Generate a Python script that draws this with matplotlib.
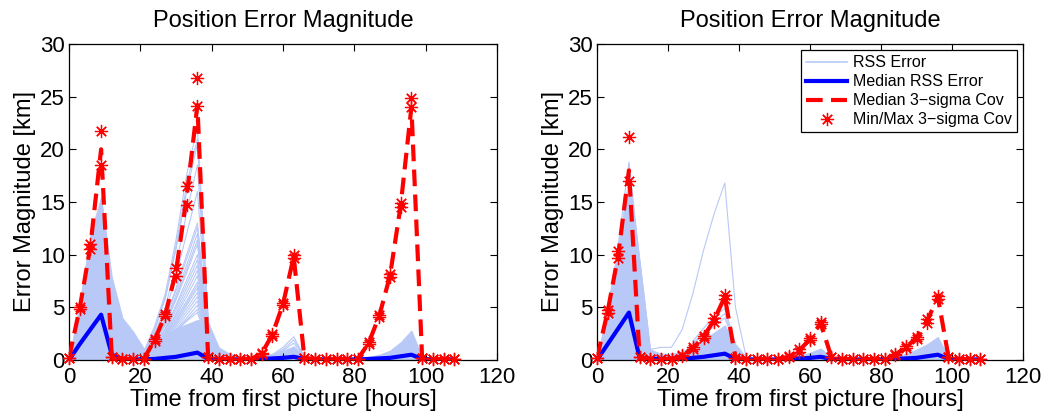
import matplotlib
matplotlib.use("Agg")
import matplotlib.pyplot as plt

plt.rcParams['font.family'] = ['Liberation Sans', 'DejaVu Sans']

# sample times [hours]
hours = list(range(0, 109, 3))

# ---------------- left panel ----------------
rss_band_left = [0.0, 5.5, 12.0, 15.5, 7.9, 4.0, 2.7, 1.1, 1.5, 2.4, 3.0, 3.4, 3.8, 3.6,
                 1.2, 0.6, 0.4, 0.3, 0.3, 0.5, 0.9, 1.3, 0.3, 0.2, 0.2, 0.2, 0.2, 0.2,
                 0.3, 0.5, 0.9, 1.7, 2.8, 0.3, 0.2, 0.2, 0.2]
# individual RSS runs: (start hour, values)
rss_runs_left = [
    (21, [0.8, 3.2, 6.3, 11.4, 17.6, 22.1, 4.0]),
    (21, [0.7, 2.9, 6.0, 10.8, 16.6, 21.0, 3.9]),
    (21, [0.7, 2.8, 5.8, 10.5, 16.0, 20.5, 3.8]),
    (21, [0.7, 2.5, 5.0, 9.0, 14.0, 18.5, 3.5]),
    (21, [0.6, 2.2, 4.5, 8.0, 12.0, 16.0, 3.2]),
    (21, [0.6, 2.0, 4.0, 6.8, 10.0, 13.0, 3.0]),
    (21, [0.6, 2.0, 3.9, 6.6, 9.6, 12.6, 3.0]),
    (21, [0.5, 1.8, 3.6, 6.2, 9.0, 12.0, 2.8]),
    (21, [0.5, 1.7, 3.4, 5.9, 8.6, 11.4, 2.7]),
    (21, [0.5, 1.6, 3.3, 5.7, 8.3, 11.0, 2.6]),
    (21, [0.5, 1.5, 3.0, 5.2, 7.6, 10.0, 2.5]),
    (21, [0.5, 1.5, 2.9, 5.0, 7.2, 9.5, 2.4]),
    (21, [0.4, 1.4, 2.8, 4.7, 6.8, 9.0, 2.3]),
    (21, [0.4, 1.3, 2.6, 4.4, 6.4, 8.5, 2.3]),
    (21, [0.4, 1.3, 2.5, 4.2, 6.0, 8.0, 2.2]),
    (21, [0.4, 1.2, 2.4, 4.0, 5.6, 7.4, 2.1]),
    (21, [0.4, 1.2, 2.3, 3.8, 5.4, 7.1, 2.1]),
    (21, [0.4, 1.1, 2.2, 3.6, 5.2, 6.8, 2.0]),
    (21, [0.3, 1.1, 2.1, 3.5, 4.9, 6.4, 2.0]),
    (21, [0.3, 1.0, 2.0, 3.3, 4.6, 6.0, 1.9]),
    (21, [0.3, 1.0, 1.9, 3.1, 4.3, 5.6, 1.9]),
    (21, [0.3, 0.9, 1.8, 2.9, 4.0, 5.2, 1.8]),
    (21, [0.3, 0.9, 1.7, 2.8, 3.8, 4.8, 1.8]),
    (21, [0.3, 0.9, 1.7, 2.7, 3.7, 4.5, 1.7]),
    (54, [0.3, 0.5, 1.2, 2.2, 0.3]),
    (54, [0.3, 0.5, 1.0, 1.9, 0.3]),
    (54, [0.3, 0.4, 0.9, 1.6, 0.3]),
]
med_rss_left = [0.0, 1.5, 2.9, 4.3, 0.5, 0.1, 0.05, 0.05, 0.1, 0.2, 0.3, 0.5, 0.7, 0.1,
                0.05, 0.05, 0.05, 0.05, 0.1, 0.15, 0.2, 0.3, 0.1, 0.05, 0.05, 0.05, 0.05,
                0.05, 0.1, 0.15, 0.2, 0.35, 0.5, 0.1, 0.05, 0.05, 0.05]
med_cov_left = [0.2, 4.9, 10.8, 20.0, 0.3, 0.1, 0.1, 0.1, 1.9, 4.3, 8.4, 15.5, 24.2, 0.3,
                0.1, 0.1, 0.1, 0.1, 0.6, 2.4, 5.3, 9.8, 0.2, 0.1, 0.1, 0.1, 0.1, 0.1,
                1.6, 4.2, 8.0, 14.7, 24.0, 0.2, 0.1, 0.1, 0.1]
min_cov_left = [0.2, 4.8, 10.5, 18.5, 0.3, 0.1, 0.1, 0.1, 1.8, 4.2, 8.0, 14.7, 24.1, 0.3,
                0.1, 0.1, 0.1, 0.1, 0.6, 2.3, 5.2, 9.7, 0.2, 0.1, 0.1, 0.1, 0.1, 0.1,
                1.5, 4.1, 7.9, 14.5, 24.0, 0.2, 0.1, 0.1, 0.1]
max_cov_left = [0.2, 5.0, 11.0, 21.7, 0.3, 0.1, 0.1, 0.1, 2.0, 4.4, 8.7, 16.5, 26.8, 0.3,
                0.1, 0.1, 0.1, 0.1, 0.7, 2.5, 5.4, 10.0, 0.2, 0.1, 0.1, 0.1, 0.1, 0.1,
                1.7, 4.3, 8.2, 14.9, 24.9, 0.2, 0.1, 0.1, 0.1]

# ---------------- right panel ----------------
rss_band_right = [0.0, 5.2, 11.0, 17.5, 9.5, 1.0, 0.6, 0.6, 0.8, 1.4, 2.0, 2.6, 3.3, 1.5,
                  0.3, 0.2, 0.2, 0.2, 0.2, 0.4, 0.7, 1.1, 0.3, 0.2, 0.2, 0.2, 0.2, 0.2,
                  0.3, 0.6, 1.0, 1.5, 2.2, 0.3, 0.2, 0.2, 0.2]
rss_runs_right = [
    (6, [11.0, 18.8, 9.5, 1.0]),
    (15, [1.0, 1.2, 1.2, 2.9, 6.3, 10.4, 13.9, 16.8, 5.0, 0.3]),
    (27, [1.8, 3.0, 4.1, 4.9, 1.5]),
    (27, [1.6, 2.6, 3.6, 4.4, 1.4]),
    (27, [1.5, 2.4, 3.2, 4.0, 1.3]),
]
med_rss_right = [0.0, 1.5, 3.0, 4.5, 0.2, 0.1, 0.1, 0.1, 0.15, 0.2, 0.3, 0.45, 0.6, 0.1,
                 0.05, 0.05, 0.05, 0.05, 0.1, 0.15, 0.2, 0.3, 0.1, 0.05, 0.05, 0.05, 0.05,
                 0.05, 0.1, 0.15, 0.2, 0.35, 0.5, 0.1, 0.05, 0.05, 0.05]
med_cov_right = [0.2, 4.6, 10.0, 18.0, 0.3, 0.1, 0.1, 0.1, 0.4, 1.1, 2.2, 3.8, 6.0, 0.2,
                 0.1, 0.1, 0.1, 0.1, 0.3, 0.9, 2.0, 3.5, 0.3, 0.1, 0.1, 0.1, 0.1, 0.1,
                 0.5, 1.2, 2.1, 3.7, 6.0, 0.3, 0.1, 0.1, 0.1]
min_cov_right = [0.2, 4.5, 9.7, 17.0, 0.3, 0.1, 0.1, 0.1, 0.4, 1.0, 2.1, 3.6, 5.8, 0.2,
                 0.1, 0.1, 0.1, 0.1, 0.3, 0.8, 1.9, 3.4, 0.3, 0.1, 0.1, 0.1, 0.1, 0.1,
                 0.5, 1.1, 2.0, 3.5, 5.8, 0.3, 0.1, 0.1, 0.1]
max_cov_right = [0.2, 4.7, 10.3, 21.2, 0.3, 0.1, 0.1, 0.1, 0.5, 1.2, 2.3, 4.0, 6.2, 0.2,
                 0.1, 0.1, 0.1, 0.1, 0.4, 1.0, 2.1, 3.6, 0.3, 0.1, 0.1, 0.1, 0.1, 0.1,
                 0.6, 1.3, 2.2, 3.9, 6.1, 0.3, 0.1, 0.1, 0.1]

LIGHT = (0.72, 0.79, 0.97)
ASTERISK = (8, 2, 0)


def draw_panel(ax, band, runs, med_rss, med_cov, cov_min, cov_max):
    ax.fill_between(hours, 0, band, color=LIGHT, lw=0.6, zorder=1)
    for start, vals in runs:
        i0 = hours.index(start)
        ax.plot(hours[i0:i0 + len(vals)], vals, color=LIGHT, lw=0.8, zorder=1)
    h_rss, = ax.plot([], [], color=LIGHT, lw=1.2)
    h_med, = ax.plot(hours, med_rss, color='blue', lw=3, zorder=3)
    h_cov, = ax.plot(hours, med_cov, color='red', lw=3, ls=(0, (4, 2)), zorder=4)
    h_mm, = ax.plot(hours, cov_min, ls='none', marker=ASTERISK, ms=9.5, mew=0.9,
                    color='red', zorder=5, clip_on=False)
    ax.plot(hours, cov_max, ls='none', marker=ASTERISK, ms=9.5, mew=0.9,
            color='red', zorder=5, clip_on=False)

    ax.set_xlim(0, 120)
    ax.set_ylim(0, 30)
    ax.set_xticks(range(0, 121, 20))
    ax.set_yticks(range(0, 31, 5))
    ax.tick_params(direction='in', top=True, right=True, length=5, width=0.8,
                   labelsize=16)
    ax.tick_params(axis='x', pad=5)
    ax.tick_params(axis='y', pad=3)
    for s in ax.spines.values():
        s.set_linewidth(0.9)
    ax.set_title('Position Error Magnitude', fontsize=17, pad=12)
    ax.set_xlabel('Time from first picture [hours]', fontsize=17, labelpad=1)
    ax.set_ylabel('Error Magnitude [km]', fontsize=17, labelpad=3)
    return h_rss, h_med, h_cov, h_mm


fig = plt.figure(figsize=(10.47, 4.2), dpi=100)
axL = fig.add_axes([0.0659, 0.1429, 0.4088, 0.7524])
axR = fig.add_axes([0.5702, 0.1429, 0.4069, 0.7524])

draw_panel(axL, rss_band_left, rss_runs_left, med_rss_left, med_cov_left,
           min_cov_left, max_cov_left)
handles = draw_panel(axR, rss_band_right, rss_runs_right, med_rss_right, med_cov_right,
                     min_cov_right, max_cov_right)

leg = axR.legend(handles,
                 ['RSS Error', 'Median RSS Error', 'Median 3\u2212sigma Cov',
                  'Min/Max 3\u2212sigma Cov'],
                 loc='upper right', fontsize=11.5, frameon=True, fancybox=False,
                 framealpha=1, edgecolor='black', borderaxespad=0.4,
                 handlelength=2.6, handletextpad=0.35, labelspacing=0.25,
                 borderpad=0.3)
leg.get_frame().set_linewidth(0.9)

fig.savefig('out.png', dpi=100)
